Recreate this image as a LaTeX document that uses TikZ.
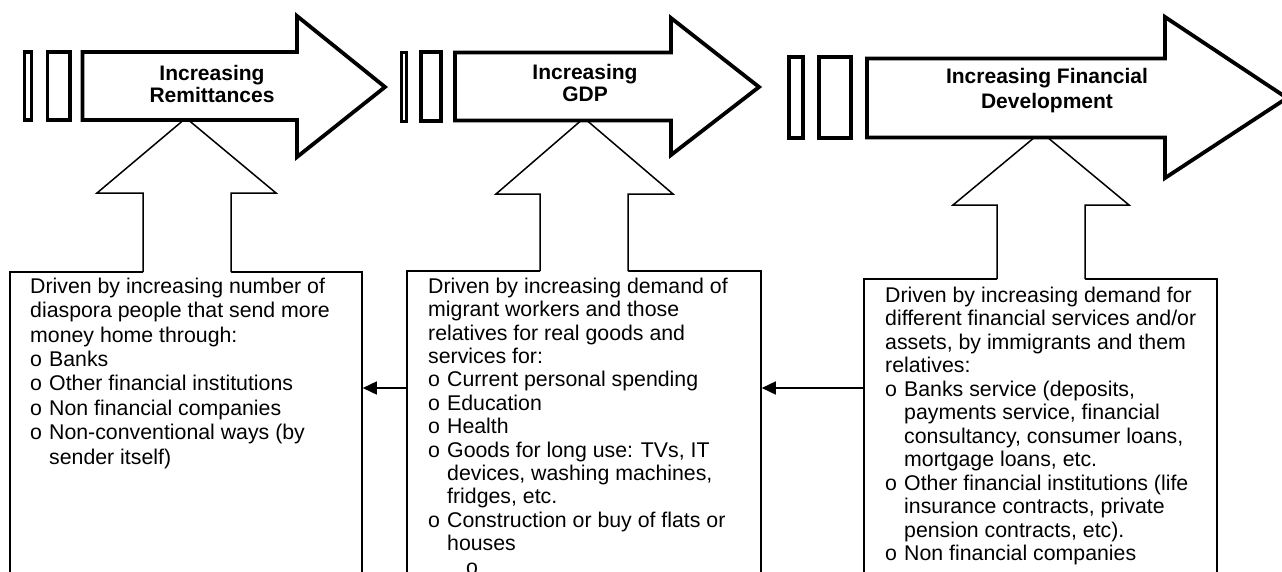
\documentclass[tikz,border=0pt]{standalone}
\usepackage{fontspec}
\setmainfont{Liberation Sans}
\usetikzlibrary{arrows.meta,calc}
\newcommand\bitem{\makebox[19pt][l]{o}}
\newcommand\bcont{\hspace*{19pt}}
\begin{document}
\begin{tikzpicture}[x=1pt,y=-1pt,
  bigarrow/.style={line width=3.8pt,line join=miter,miter limit=20,fill=white},
  barbox/.style={line width=3.8pt,line join=miter},
  thinline/.style={line width=1.5pt,line join=miter},
  textbox/.style={draw,line width=1.6pt,inner sep=0pt,rectangle},
  title/.style={font=\fontsize{21}{22}\selectfont\bfseries,align=center,inner sep=0pt,anchor=north},
  body/.style={font=\fontsize{21.3}{24.4}\selectfont,align=left,inner sep=0pt,anchor=north west},
  conn/.style={line width=1.6pt,-{Triangle[length=14pt,width=13pt]}}]
\useasboundingbox (0,0) rectangle (1282,571);

% text boxes (open at the bottom edge of the picture)
\node[textbox,minimum width=352pt,minimum height=328pt] (b1) at (186,436) {};
\node[textbox,minimum width=354pt,minimum height=329pt] (b2) at (584,435.5) {};
\node[textbox,minimum width=353pt,minimum height=321pt] (b3) at (1040.5,439.5) {};

% up arrows
\fill[white] (143,274) -- (143,193) -- (97,193) -- (186,118) -- (276,193) -- (231,193) -- (231,274) -- cycle;
\draw[thinline] (143,272) -- (143,193) -- (97,193) -- (186,118) -- (276,193) -- (231,193) -- (231,272);
\fill[white] (540,273) -- (540,194) -- (496,194) -- (584,118) -- (673,194) -- (628,194) -- (628,273) -- cycle;
\draw[thinline] (540,271) -- (540,194) -- (496,194) -- (584,118) -- (673,194) -- (628,194) -- (628,271);
\fill[white] (997,281) -- (997,205) -- (953,205) -- (1041,132) -- (1129,205) -- (1085,205) -- (1085,281) -- cycle;
\draw[thinline] (997,279) -- (997,205) -- (953,205) -- (1041,132) -- (1129,205) -- (1085,205) -- (1085,279);

% big arrows with bars
\draw[barbox] (24.5,52) rectangle (31.5,120);
\draw[barbox] (47.5,52) rectangle (70,120);
\draw[bigarrow] (82.5,52) -- (297,52) -- (297,16) -- (385,87) -- (297,157) -- (297,120) -- (82.5,120) -- cycle;

\draw[barbox,line width=3pt] (401.5,52) rectangle (406.8,121);
\draw[barbox] (421,52) rectangle (441,121);
\draw[bigarrow] (455,52.5) -- (671,52.5) -- (671,18) -- (759,87) -- (671,155) -- (671,120.5) -- (455,120.5) -- cycle;

\draw[barbox] (789,57) rectangle (803,138);
\draw[barbox] (819,57) rectangle (851,138);
\draw[bigarrow] (867,58.5) -- (1165,58.5) -- (1165,17) -- (1287,98) -- (1165,178) -- (1165,137.5) -- (867,137.5) -- cycle;

% titles
\node[title] (n1) at (212,64) {\rule{0pt}{16pt}Increasing\\Remittances};
\node[title] (n2) at (585,63) {\rule{0pt}{16pt}Increasing\\GDP};
\node[title,font=\fontsize{21}{25}\selectfont\bfseries] (n3) at (1047,67) {\rule{0pt}{16pt}Increasing Financial\\Development};

% box texts
\node[body] (t1) at (30,276) {\rule{0pt}{17pt}Driven by increasing number of\\
diaspora people that send more\\
money home through:\\
\bitem Banks\\
\bitem Other financial institutions\\
\bitem Non financial companies\\
\bitem Non-conventional ways (by\\
\bcont sender itself)};

\node[body,font=\fontsize{21.3}{23.4}\selectfont] (t2) at (428,276) {\rule{0pt}{17pt}Driven by increasing demand of\\
migrant workers and those\\
relatives for real goods and\\
services for:\\
\bitem Current personal spending\\
\bitem Education\\
\bitem Health\\
\bitem Goods for long use: TVs, IT\\
\bcont devices, washing machines,\\
\bcont fridges, etc.\\
\bitem Construction or buy of flats or\\
\bcont houses\\
\hspace*{38pt}o};

\node[body,font=\fontsize{21.3}{23.5}\selectfont] (t3) at (885,285) {\rule{0pt}{17pt}Driven by increasing demand for\\
different financial services and/or\\
assets, by immigrants and them\\
relatives:\\
\bitem Banks service (deposits,\\
\bcont payments service, financial\\
\bcont consultancy, consumer loans,\\
\bcont mortgage loans, etc.\\
\bitem Other financial institutions (life\\
\bcont insurance contracts, private\\
\bcont pension contracts, etc).\\
\bitem Non financial companies};

% connectors
\coordinate (ly) at (0,388);
\draw[conn] (b3.west |- ly) -- (b2.east |- ly);
\draw[conn] (b2.west |- ly) -- (b1.east |- ly);
\end{tikzpicture}
\end{document}
